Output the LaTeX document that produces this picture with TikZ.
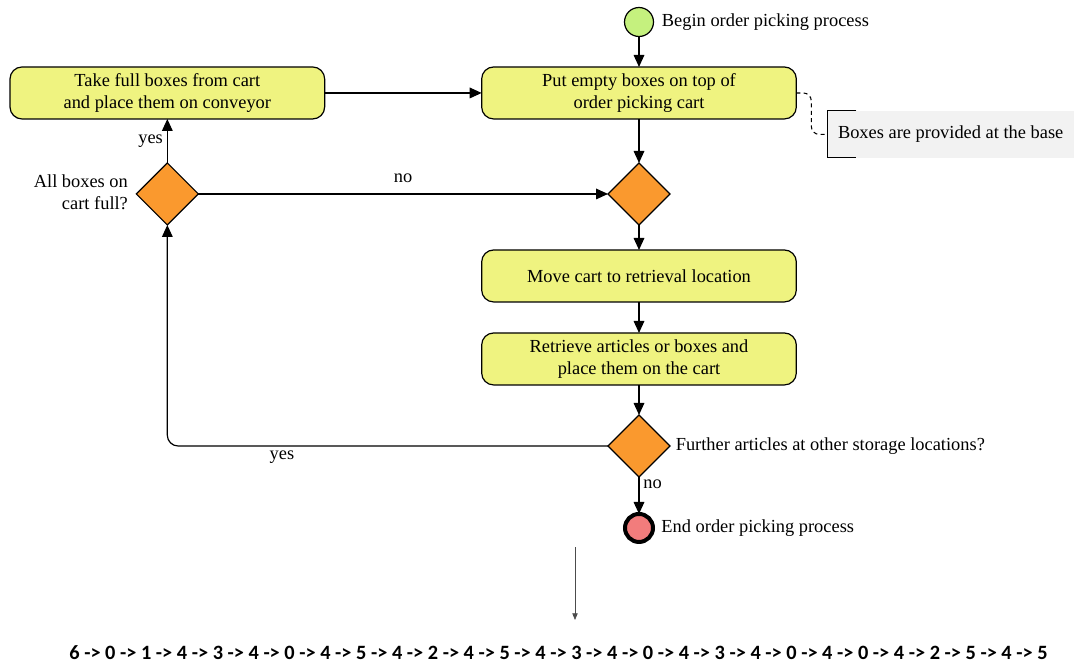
\documentclass[tikz,border=0pt]{standalone}
\usepackage{fontspec}
\setmainfont{Liberation Serif}
\newfontfamily\seqfont{Carlito}
\usetikzlibrary{arrows.meta,positioning,shapes.geometric}

\definecolor{actfill}{RGB}{239,243,128}
\definecolor{decfill}{RGB}{250,153,46}
\definecolor{startfill}{RGB}{197,241,126}
\definecolor{endfill}{RGB}{242,124,124}
\definecolor{notefill}{RGB}{242,242,242}

\begin{document}
\begin{tikzpicture}[->,>={Triangle[width=8pt,length=9pt]},line width=0.9pt,
  auto,node distance=23.25pt,font=\fontsize{13.8}{16.5}\selectfont,
  every node/.style={outer sep=0pt},
  action node/.style={rectangle,rounded corners=9pt,draw,fill=actfill,
    minimum width=236pt,minimum height=39pt,align=center},
  decision node/.style={diamond,aspect=1,draw,fill=decfill,
    minimum size=46.5pt,inner sep=0pt}]

  \tikzstyle{note node} = [rectangle,fill=notefill,minimum width=185pt,
    minimum height=35.25pt]
  \tikzstyle{seq arrow} = [draw,line width=0.6pt,black!70,
    -{Triangle[width=4pt,length=5pt]}]

  \useasboundingbox (0,0) rectangle (807pt,-498pt);

  % main column
  \node[circle,draw,fill=startfill,minimum size=21.75pt,inner sep=0pt]
    (start) at (479.25pt,-16.5pt) {};
  \node[action node] (put) [below=22.85pt of start]
    {Put empty boxes on top of\\order picking cart};
  \node[decision node] (merge) [below=33pt of put] {};
  \node[action node] (move) [below=18.75pt of merge]
    {Move cart to retrieval location};
  \node[action node] (retrieve) [below=23.25pt of move]
    {Retrieve articles or boxes and\\place them on the cart};
  \node[decision node] (further) [below=22.5pt of retrieve] {};
  \node[circle,draw,line width=3pt,fill=endfill,minimum size=21pt,inner sep=0pt]
    (end) [below=27.75pt of further] {};

  % left column
  \node[action node] (take) [left=117.75pt of put]
    {Take full boxes from cart\\and place them on conveyor};
  \node[decision node] (full) [below=33pt of take] {};

  % texts beside the nodes
  \node (beginlbl) [right=3pt of start] {Begin order picking process};
  \node (endlbl) [right=3pt of end] {End order picking process};
  \node (furtherlbl) [right=1pt of further] {Further articles at other storage locations?};
  \node[align=right] (fulllbl) [left=3pt of full,yshift=1pt] {All boxes on\\cart full?};
  \node[note node] (note) [right=23.25pt of put,yshift=-31.1pt]
    {Boxes are provided at the base};

  \path
    (start) edge (put)
    (put) edge (merge)
    (merge) edge (move)
    (move) edge (retrieve)
    (retrieve) edge (further)
    (further) edge node[pos=0.2] {no} (end)
    (take) edge (put)
    (full) edge node {yes} (take)
    (full) edge node[above=5pt] {no} (merge);
  \draw[rounded corners=8pt] (further.west) -| node[below,pos=0.37] {yes} (full.south);

  % note with its bracket
  \draw[-,line width=0.8pt] ([xshift=21.75pt]note.north west) -- (note.north west)
    -- (note.south west) -- ([xshift=21.75pt]note.south west);
  \draw[-,line width=0.8pt,dash pattern=on 3pt off 2.5pt,rounded corners=6pt]
    (put.east) -- ++(11.25pt,0) |- (note.west);

  % sequence
  \node[font=\seqfont\bfseries\fontsize{15.25}{18}\selectfont] (seq) at (418.9pt,-489.75pt)
    {6 -> 0 -> 1 -> 4 -> 3 -> 4 -> 0 -> 4 -> 5 -> 4 -> 2 -> 4 -> 5 -> 4 -> 3 -> 4 -> 0 -> 4 -> 3 -> 4 -> 0 -> 4 -> 0 -> 4 -> 2 -> 5 -> 4 -> 5};
  \coordinate (arrowtop) at (431.25pt,-410.25pt);
  \coordinate (arrowend) at (431.25pt,-465pt);
  \draw[seq arrow] (arrowtop) -- (arrowend);
\end{tikzpicture}
\end{document}
